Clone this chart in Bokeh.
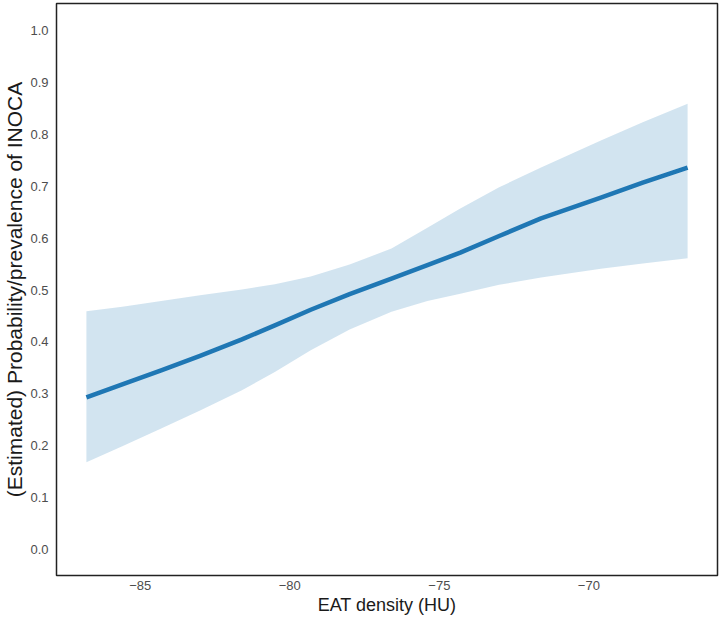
from bokeh.plotting import figure
from bokeh.models import ColumnDataSource, Range1d, FixedTicker, CustomJSTickFormatter
from bokeh.embed import file_html
from bokeh.resources import INLINE

# EAT density (HU) and estimated probability of INOCA with 95% band
eat_hu = [-86.8, -85.6, -84.3, -83.0, -81.6, -80.5, -79.3, -78.0,
          -76.6, -75.4, -74.3, -73.0, -71.6, -69.6, -68.2, -66.7]
prob = [0.293, 0.318, 0.345, 0.373, 0.405, 0.432, 0.462, 0.492,
        0.522, 0.548, 0.572, 0.604, 0.638, 0.678, 0.707, 0.736]
lower = [0.168, 0.199, 0.233, 0.268, 0.307, 0.342, 0.384, 0.424,
         0.458, 0.479, 0.493, 0.510, 0.524, 0.541, 0.551, 0.561]
upper = [0.459, 0.468, 0.479, 0.490, 0.501, 0.511, 0.526, 0.549,
         0.580, 0.620, 0.657, 0.698, 0.736, 0.788, 0.823, 0.859]

x_ticks = [-85, -80, -75, -70]
y_ticks = [0.0, 0.1, 0.2, 0.3, 0.4, 0.5, 0.6, 0.7, 0.8, 0.9, 1.0]

src = ColumnDataSource(dict(x=eat_hu, p=prob, lo=lower, hi=upper))

p = figure(width=720, height=620, output_backend="svg", toolbar_location=None,
           x_range=Range1d(-87.8, -65.7), y_range=Range1d(-0.05, 1.052))
p.min_border_left = 54
p.min_border_right = 3
p.min_border_top = 3
p.min_border_bottom = 45

p.varea(x="x", y1="lo", y2="hi", source=src, fill_color="#1f77b4", fill_alpha=0.2)
p.line(x="x", y="p", source=src, line_color="#1f77b4", line_width=4.5,
       line_join="round")

p.grid.visible = False
p.outline_line_color = "#222222"
p.outline_line_width = 1.5
p.background_fill_color = "white"
p.border_fill_color = "white"

font = "Liberation Sans"
for ax in (p.xaxis[0], p.yaxis[0]):
    ax.axis_line_color = None
    ax.major_tick_line_color = None
    ax.minor_tick_line_color = None
    ax.major_tick_out = 0
    ax.major_tick_in = 0
    ax.minor_tick_out = 0
    ax.minor_tick_in = 0
    ax.major_label_text_font = font
    ax.major_label_text_font_size = "13px"
    ax.major_label_text_color = "#4d4d4d"
    ax.axis_label_text_font = font
    ax.axis_label_text_font_style = "normal"
    ax.axis_label_text_color = "#1a1a1a"

p.xaxis.ticker = FixedTicker(ticks=x_ticks)
p.xaxis.formatter = CustomJSTickFormatter(code="return tick < 0 ? '\u2212' + Math.abs(tick) : String(tick);")
p.xaxis.axis_label = "EAT density (HU)"
p.xaxis.axis_label_text_font_size = "18px"
p.xaxis.major_label_standoff = 5
p.xaxis.axis_label_standoff = 2

p.yaxis.ticker = FixedTicker(ticks=y_ticks)
p.yaxis.formatter = CustomJSTickFormatter(code="return tick.toFixed(1);")
p.yaxis.axis_label = "(Estimated) Probability/prevalence of INOCA"
p.yaxis.axis_label_text_font_size = "21px"
p.yaxis.major_label_standoff = 8
p.yaxis.axis_label_standoff = 1

open("out.html", "w").write(file_html(p, INLINE))
